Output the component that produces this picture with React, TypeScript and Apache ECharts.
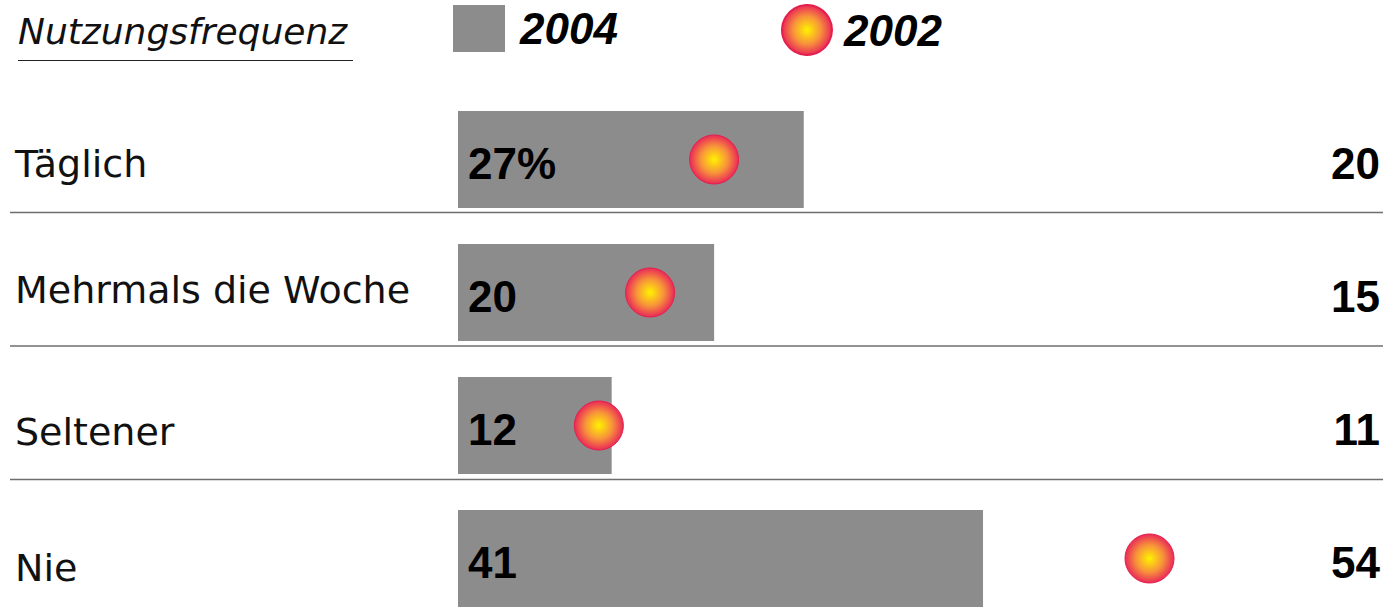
import React, { useEffect, useRef } from "react";
import * as echarts from "echarts";

const categories = ["Täglich", "Mehrmals die Woche", "Seltener", "Nie"];
const values2004 = [27, 20, 12, 41];
const values2002 = [20, 15, 11, 54];
const legendTitle = "Nutzungsfrequenz";
const seriesNames = ["2004", "2002"];

const dotGradient = {
  type: "radial",
  x: 0.5,
  y: 0.5,
  r: 0.5,
  colorStops: [
    { offset: 0, color: "#fff200" },
    { offset: 0.55, color: "#f7943a" },
    { offset: 1, color: "#ea2a58" },
  ],
};

export default function App() {
  const ref = useRef<HTMLDivElement>(null);
  useEffect(() => {
    if (!ref.current) return;
    const chart = echarts.init(ref.current, undefined, { renderer: "svg" });
    const boldFont = "Liberation Sans";
    const thinFont = "DejaVu Sans";
    const legendText = {
      fontFamily: boldFont,
      fontStyle: "italic",
      fontWeight: "bold",
      fontSize: 44,
      color: "#000",
    };
    const boldLabel = {
      fontFamily: boldFont,
      fontWeight: "bold",
      fontSize: 44,
      color: "#000",
      padding: [8, 0, 0, 0],
    };
    const catPads = [
      [8, 0, 0, 0],
      [0, 0, 6, 0],
      [12, 0, 0, 0],
      [19, 0, 0, 0],
    ];
    const catRich: Record<string, any> = {};
    catPads.forEach((p, i) => {
      catRich["c" + i] = {
        fontFamily: thinFont,
        fontSize: 38,
        color: "#111",
        padding: p,
      };
    });
    chart.setOption({
      animation: false,
      backgroundColor: "#ffffff",
      title: {
        text: legendTitle,
        left: 13,
        top: 8,
        textStyle: {
          fontFamily: thinFont,
          fontStyle: "italic",
          fontWeight: "normal",
          fontSize: 36,
          color: "#111",
        },
      },
      legend: [
        {
          data: [{ name: seriesNames[0], icon: "rect" }],
          left: 453,
          top: 5,
          padding: 0,
          itemWidth: 52,
          itemHeight: 47,
          itemGap: 0,
          textStyle: { ...legendText, padding: [0, 0, 0, 10] },
        },
        {
          data: [seriesNames[1]],
          left: 781,
          top: 4,
          padding: 0,
          itemWidth: 50,
          itemHeight: 50,
          itemGap: 0,
          textStyle: { ...legendText, padding: [0, 0, 0, 7] },
        },
      ],
      grid: { left: 458, top: 93, height: 532, right: 10 },
      xAxis: {
        type: "value",
        min: 0,
        max: 72,
        show: false,
      },
      yAxis: [
        {
          type: "category",
          data: categories,
          inverse: true,
          position: "left",
          axisLine: { show: false },
          axisTick: { show: false },
          splitLine: { show: false },
          axisLabel: {
            align: "left",
            margin: 443,
            formatter: (v: string, i: number) => `{c${i}|${v}}`,
            rich: catRich,
          },
        },
        {
          type: "category",
          data: categories,
          inverse: true,
          position: "right",
          axisLine: { show: false },
          axisTick: { show: false },
          splitLine: { show: false },
          axisLabel: {
            align: "right",
            margin: 0,
            formatter: (_v: string, i: number) => `{b|${values2002[i]}}`,
            rich: { b: boldLabel },
          },
        },
      ],
      series: [
        {
          name: seriesNames[0],
          type: "bar",
          data: values2004,
          barWidth: 97,
          itemStyle: { color: "#8c8c8c" },
          label: {
            show: true,
            position: "insideLeft",
            distance: 10,
            formatter: (p: any) =>
              `{b|${p.dataIndex === 0 ? p.value + "%" : String(p.value)}}`,
            rich: { b: boldLabel },
          },
        },
        {
          name: seriesNames[1],
          type: "scatter",
          data: values2002,
          symbol: "circle",
          symbolSize: 49,
          z: 5,
          itemStyle: {
            color: dotGradient,
            borderColor: "#e4214d",
            borderWidth: 1,
            opacity: 1,
          },
        },
      ],
      graphic: [
        {
          type: "line",
          shape: { x1: 18, y1: 60.5, x2: 353, y2: 60.5 },
          style: { stroke: "#222", lineWidth: 1 },
        },
        {
          type: "line",
          shape: { x1: 10, y1: 212.5, x2: 1383, y2: 212.5 },
          style: { stroke: "#6e6e6e", lineWidth: 1.5 },
        },
        {
          type: "line",
          shape: { x1: 10, y1: 346, x2: 1383, y2: 346 },
          style: { stroke: "#6e6e6e", lineWidth: 1.5 },
        },
        {
          type: "line",
          shape: { x1: 10, y1: 479.5, x2: 1383, y2: 479.5 },
          style: { stroke: "#6e6e6e", lineWidth: 1.5 },
        },
      ],
    });
    return () => chart.dispose();
  }, []);
  return (
    <div
      style={{
        position: "absolute",
        left: 0,
        top: 0,
        width: 1390,
        height: 610,
        overflow: "hidden",
      }}
    >
      <div ref={ref} style={{ width: 1390, height: 640 }} />
    </div>
  );
}
